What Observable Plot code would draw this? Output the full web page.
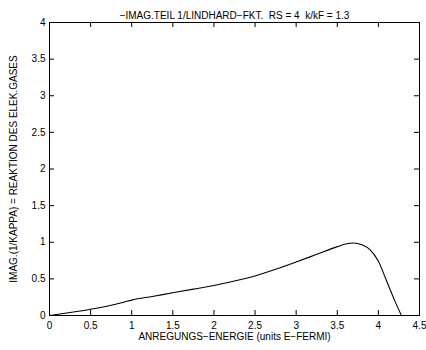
<!DOCTYPE html>
<html><head><meta charset="utf-8">
<script src="https://cdn.jsdelivr.net/npm/d3@7"></script>
<script src="https://cdn.jsdelivr.net/npm/@observablehq/plot@0.6"></script>
<style>body{margin:0;background:#fff;} svg{font-family:"Liberation Sans",Arial,sans-serif;}</style>
</head><body><div id="chart"></div>
<script>
const energy = [0, 0.25, 0.5, 0.75, 0.9, 1.0, 1.25, 1.5, 1.75, 2.0, 2.25, 2.5, 2.75, 3.0, 3.25, 3.5, 3.6, 3.7, 3.8, 3.9, 4.0, 4.1, 4.2, 4.28];
const imagPart = [0, 0.04, 0.085, 0.14, 0.18, 0.21, 0.26, 0.31, 0.36, 0.41, 0.47, 0.54, 0.63, 0.73, 0.835, 0.94, 0.975, 0.99, 0.965, 0.895, 0.74, 0.47, 0.2, 0];
const xTicks = [0, 0.5, 1, 1.5, 2, 2.5, 3, 3.5, 4, 4.5];
const xTickLabels = ["0", "0.5", "1", "1.5", "2", "2.5", "3", "3.5", "4", "4.5"];
const yTicks = [0, 0.5, 1, 1.5, 2, 2.5, 3, 3.5, 4];
const yTickLabels = ["0", "0.5", "1", "1.5", "2", "2.5", "3", "3.5", "4"];
const titleText = "\u2212IMAG.TEIL 1/LINDHARD\u2212FKT.  RS = 4  k/kF = 1.3";
const xLabel = "ANREGUNGS\u2212ENERGIE (units E\u2212FERMI)";
const yLabel = "IMAG.(1/KAPPA) = REAKTION DES ELEK.GASES";

const data = energy.map((x, i) => ({x, y: imagPart[i]}));
const W = 426, H = 350, mt = 22, mb = 35, ml = 49, mr = 7;
const fw = W - ml - mr, fh = H - mt - mb, tl = 5;

const chart = Plot.plot({
  width: W, height: H,
  marginTop: mt, marginBottom: mb, marginLeft: ml, marginRight: mr,
  style: {fontSize: "10px", fontFamily: "Liberation Sans, Arial, sans-serif", color: "black"},
  x: {domain: [0, 4.5]},
  y: {domain: [0, 4]},
  marks: [
    Plot.frame({stroke: "black", strokeWidth: 1}),
    Plot.tickX(xTicks, {x: d => d, insetTop: fh - tl, stroke: "black"}),
    Plot.tickX(xTicks, {x: d => d, insetBottom: fh - tl, stroke: "black"}),
    Plot.tickY(yTicks, {y: d => d, insetRight: fw - tl, stroke: "black"}),
    Plot.tickY(yTicks, {y: d => d, insetLeft: fw - tl, stroke: "black"}),
    Plot.axisX(xTicks, {tickSize: 0, tickPadding: 6, tickFormat: (d, i) => xTickLabels[i], label: null, fontSize: 10}),
    Plot.axisY(yTicks, {tickSize: 0, tickPadding: 4, tickFormat: (d, i) => yTickLabels[i], label: null, fontSize: 10}),
    Plot.text([xLabel], {frameAnchor: "bottom", dy: 24, text: d => d, fontSize: 10}),
    Plot.text([yLabel], {frameAnchor: "left", dx: -36, rotate: -90, textAnchor: "middle", text: d => d, fontSize: 10}),
    Plot.text([titleText], {frameAnchor: "top", dy: -11, text: d => d, fontSize: 10}),
    Plot.line(data, {x: "x", y: "y", stroke: "black", strokeWidth: 1.1, curve: "monotone-x"})
  ]
});
document.getElementById("chart").appendChild(chart);
</script></body></html>
